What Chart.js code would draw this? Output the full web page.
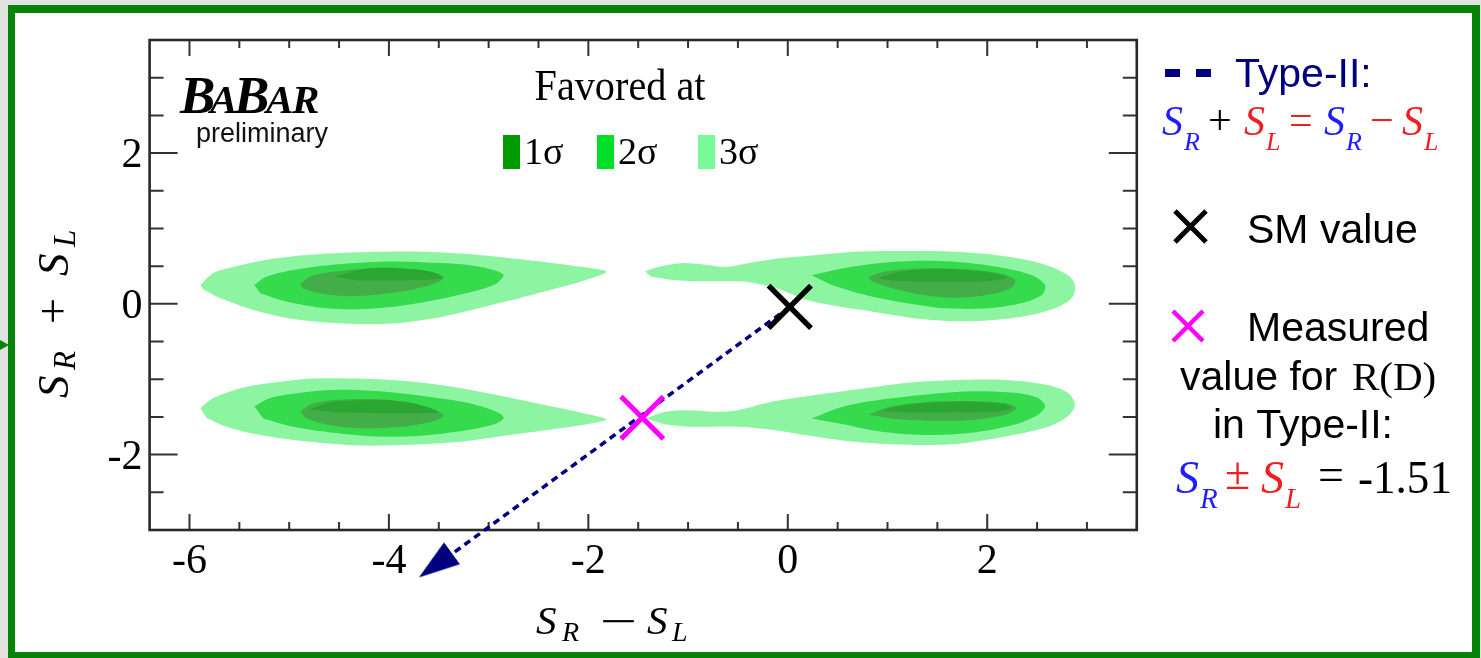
<!DOCTYPE html>
<html>
<head>
<meta charset="utf-8">
<title>S_R + S_L vs S_R - S_L</title>
<script src="https://cdn.jsdelivr.net/npm/chart.js@4.4.1/dist/chart.umd.min.js"></script>
<style>
  html, body { margin: 0; padding: 0; background: #e2e2e2; overflow: hidden; }
  #plot { display: block; }
</style>
</head>
<body>
<canvas id="plot" width="1481" height="658"></canvas>
<script>
// ---- axes -------------------------------------------------------------
const xRange = [-6.4, 3.5];
const yRange = [-3, 3.5];
const xTickLabels = [-6, -4, -2, 0, 2];
const yTickLabels = [-2, 0, 2];
const minorStep = 0.5;

// ---- favoured regions, outlines as [S_R - S_L, S_R + S_L] -------------
const upperLeft3 = [[-5.89,0.25],[-5.76,0.41],[-5.56,0.49],[-5.29,0.57],[-4.96,0.63],[-4.56,0.67],[-4.09,0.69],[-3.63,0.69],[-3.12,0.65],[-2.62,0.58],[-2.18,0.51],[-1.82,0.43],[-2.02,0.32],[-2.45,0.16],[-2.95,-0.01],[-3.46,-0.17],[-3.96,-0.26],[-4.46,-0.26],[-4.96,-0.20],[-5.36,-0.08],[-5.70,0.08],[-5.86,0.19]];
const upperLeft2 = [[-5.35,0.25],[-5.23,0.36],[-4.96,0.45],[-4.56,0.52],[-4.09,0.56],[-3.63,0.55],[-3.22,0.52],[-2.95,0.45],[-2.85,0.38],[-2.95,0.25],[-3.29,0.12],[-3.79,-0.01],[-4.23,-0.07],[-4.63,-0.06],[-5.03,0.03],[-5.29,0.14]];
const upperLeft1 = [[-4.89,0.27],[-4.76,0.38],[-4.46,0.44],[-4.09,0.48],[-3.76,0.46],[-3.53,0.41],[-3.45,0.35],[-3.56,0.26],[-3.89,0.16],[-4.36,0.10],[-4.70,0.14],[-4.87,0.21]];
const upperLeftCore = [[-4.55,0.36],[-4.30,0.45],[-4.09,0.48],[-3.76,0.46],[-3.53,0.41],[-3.47,0.34],[-3.90,0.31],[-4.30,0.31]];

const lowerLeft3 = [[-5.89,-1.38],[-5.76,-1.25],[-5.46,-1.11],[-5.13,-1.04],[-4.76,-0.99],[-4.36,-0.99],[-3.96,-1.01],[-3.46,-1.08],[-2.95,-1.20],[-2.45,-1.34],[-2.05,-1.45],[-1.82,-1.53],[-1.95,-1.58],[-2.28,-1.65],[-2.79,-1.74],[-3.29,-1.83],[-3.79,-1.87],[-4.29,-1.88],[-4.79,-1.83],[-5.29,-1.74],[-5.63,-1.63],[-5.83,-1.51]];
const lowerLeft2 = [[-5.35,-1.36],[-5.19,-1.25],[-4.89,-1.18],[-4.53,-1.14],[-4.09,-1.16],[-3.62,-1.23],[-3.19,-1.32],[-2.89,-1.45],[-2.85,-1.52],[-2.95,-1.60],[-3.29,-1.69],[-3.69,-1.75],[-4.12,-1.76],[-4.56,-1.71],[-4.96,-1.63],[-5.26,-1.52]];
const lowerLeft1 = [[-4.89,-1.43],[-4.76,-1.32],[-4.46,-1.27],[-4.06,-1.27],[-3.76,-1.32],[-3.53,-1.41],[-3.45,-1.48],[-3.56,-1.56],[-3.89,-1.63],[-4.29,-1.65],[-4.63,-1.60],[-4.83,-1.52]];
const lowerLeftCore = [[-4.80,-1.40],[-4.60,-1.31],[-4.30,-1.28],[-4.00,-1.28],[-3.76,-1.32],[-3.55,-1.40],[-3.50,-1.44],[-4.00,-1.45],[-4.50,-1.44]];

const upperRight3 = [[-1.43,0.43],[-1.30,0.49],[-1.07,0.54],[-0.83,0.52],[-0.63,0.49],[-0.40,0.54],[-0.10,0.60],[0.24,0.64],[0.67,0.69],[1.18,0.70],[1.68,0.69],[2.18,0.63],[2.58,0.52],[2.81,0.38],[2.88,0.25],[2.85,0.08],[2.68,-0.06],[2.35,-0.17],[1.84,-0.23],[1.34,-0.20],[0.84,-0.10],[0.44,-0.02],[0.17,0.06],[-0.10,0.20],[-0.40,0.29],[-0.66,0.30],[-0.93,0.30],[-1.17,0.32],[-1.37,0.36]];
const upperRight2 = [[0.24,0.38],[0.51,0.46],[0.84,0.53],[1.24,0.57],[1.68,0.56],[2.11,0.49],[2.45,0.38],[2.58,0.25],[2.55,0.12],[2.35,0.01],[2.01,-0.06],[1.58,-0.06],[1.18,0.01],[0.77,0.12],[0.44,0.25]];
const upperRight1 = [[0.81,0.36],[0.97,0.43],[1.34,0.47],[1.78,0.46],[2.11,0.41],[2.28,0.32],[2.24,0.21],[2.01,0.12],[1.68,0.08],[1.34,0.12],[1.04,0.21],[0.84,0.30]];
const upperRightCore = [[0.90,0.34],[1.10,0.42],[1.40,0.46],[1.78,0.45],[2.05,0.41],[2.20,0.35],[2.00,0.30],[1.50,0.29],[1.10,0.30]];

const lowerRight3 = [[-1.42,-1.52],[-1.23,-1.43],[-1.00,-1.41],[-0.73,-1.43],[-0.50,-1.41],[-0.16,-1.30],[0.17,-1.23],[0.67,-1.14],[1.18,-1.05],[1.68,-1.01],[2.18,-1.01],[2.58,-1.07],[2.81,-1.18],[2.88,-1.34],[2.81,-1.49],[2.61,-1.63],[2.18,-1.76],[1.68,-1.86],[1.18,-1.87],[0.67,-1.83],[0.17,-1.74],[-0.16,-1.67],[-0.50,-1.63],[-0.77,-1.63],[-1.00,-1.63],[-1.23,-1.60]];
const lowerRight2 = [[0.24,-1.52],[0.51,-1.38],[0.84,-1.29],[1.34,-1.21],[1.84,-1.16],[2.28,-1.18],[2.51,-1.25],[2.58,-1.36],[2.51,-1.47],[2.28,-1.60],[1.84,-1.71],[1.34,-1.74],[0.91,-1.69],[0.57,-1.60]];
const lowerRight1 = [[0.81,-1.47],[1.04,-1.36],[1.44,-1.30],[1.84,-1.29],[2.18,-1.32],[2.29,-1.38],[2.18,-1.47],[1.84,-1.54],[1.44,-1.55],[1.11,-1.53],[0.91,-1.49]];
const lowerRightCore = [[0.95,-1.42],[1.10,-1.36],[1.44,-1.31],[1.84,-1.30],[2.18,-1.33],[2.25,-1.38],[2.10,-1.43],[1.60,-1.44],[1.20,-1.44]];

// ---- points and the Type-II line ---------------------------------------
const smPoint = [0.02, -0.04];
const measuredPoint = [-1.46, -1.51];
const typeIILine = [[0.02, -0.04], [-3.37, -3.32]];
const arrowTip = [-3.70, -3.63];

// ---- colours -------------------------------------------------------------
const sigmaFill = { 0: '#2ba633', 1: '#43ae48', 2: '#35db4c', 3: '#8df5a2' };
const sigmaKey  = { 1: '#009b00', 2: '#00e028', 3: '#78fa96' };
const SERIF = "'Liberation Serif', 'Times New Roman', serif";
const SANS = "'Liberation Sans', Arial, sans-serif";

const toXY = pts => pts.map(p => ({ x: p[0], y: p[1] }));

function region(pts, level) {
  return {
    data: toXY(pts),
    showLine: true,
    fill: 'shape',
    tension: 0.3,
    borderWidth: 0,
    borderColor: 'rgba(0,0,0,0)',
    backgroundColor: sigmaFill[level],
    pointRadius: 0,
    order: 10 + level
  };
}

// arrow head sprite: tip sits at the sprite centre and points to +x
const arrowHead = document.createElement('canvas');
arrowHead.width = 96; arrowHead.height = 34;
(function () {
  const g = arrowHead.getContext('2d');
  g.fillStyle = '#00007f';
  g.beginPath();
  g.moveTo(48, 17);
  g.lineTo(7, 3.5);
  g.lineTo(7, 30.5);
  g.closePath();
  g.fill();
})();

function lineAngle(chart) {
  const xs = chart.scales.x, ys = chart.scales.y;
  const dx = xs.getPixelForValue(arrowTip[0]) - xs.getPixelForValue(typeIILine[0][0]);
  const dy = ys.getPixelForValue(arrowTip[1]) - ys.getPixelForValue(typeIILine[0][1]);
  return Math.atan2(dy, dx) * 180 / Math.PI;
}

// ---- page furniture: grey surround, green frame ------------------------
const paperPlugin = {
  id: 'paper',
  beforeDraw(chart) {
    const c = chart.ctx;
    c.save();
    c.fillStyle = '#e2e2e2';
    c.fillRect(0, 0, chart.width, chart.height);
    c.fillStyle = '#078407';
    c.fillRect(8, 5, 1472, 653);
    c.beginPath();
    c.moveTo(0, 340); c.lineTo(9, 345); c.lineTo(0, 350); c.closePath();
    c.fill();
    c.fillStyle = '#ffffff';
    c.fillRect(15, 13, 1457, 639);
    c.restore();
  }
};

// ---- plot frame with inward ticks on all four sides --------------------
const framePlugin = {
  id: 'frame',
  beforeDatasetsDraw(chart) {
    const c = chart.ctx;
    const { left, right, top, bottom } = chart.chartArea;
    const xs = chart.scales.x, ys = chart.scales.y;
    c.save();
    c.strokeStyle = '#333333';
    c.lineWidth = 2;
    c.beginPath();
    for (let v = Math.ceil(xRange[0] / minorStep) * minorStep; v <= xRange[1] + 1e-9; v += minorStep) {
      const px = xs.getPixelForValue(v);
      const len = xTickLabels.some(t => Math.abs(t - v) < 1e-6) ? 16 : 8;
      c.moveTo(px, bottom); c.lineTo(px, bottom - len);
      c.moveTo(px, top); c.lineTo(px, top + len);
    }
    for (let v = Math.ceil(yRange[0] / minorStep) * minorStep; v <= yRange[1] + 1e-9; v += minorStep) {
      const py = ys.getPixelForValue(v);
      const len = yTickLabels.some(t => Math.abs(t - v) < 1e-6) ? 28 : 14;
      c.moveTo(left, py); c.lineTo(left + len, py);
      c.moveTo(right, py); c.lineTo(right - len, py);
    }
    c.stroke();
    c.strokeStyle = '#2a2a2a';
    c.lineWidth = 2.6;
    c.strokeRect(left, top, right - left, bottom - top);
    c.restore();
  }
};

// ---- text: logo, key, axis titles and the notes on the right -----------
function put(c, s, x, y, font, color, maxW) {
  c.font = font;
  c.fillStyle = color;
  if (maxW) c.fillText(s, x, y, maxW); else c.fillText(s, x, y);
}
// horizontally stretched glyph (wide math minus)
function putWide(c, s, x, y, font, color, sx) {
  c.save();
  c.translate(x, y);
  c.scale(sx, 1);
  put(c, s, 0, 0, font, color);
  c.restore();
}

const textPlugin = {
  id: 'texts',
  afterDraw(chart) {
    const c = chart.ctx;
    c.save();
    c.textAlign = 'left';
    c.textBaseline = 'alphabetic';

    // experiment logo
    const big = 'italic bold 53px ' + SERIF, small = 'italic bold 41px ' + SERIF;
    put(c, 'B', 180, 113, big, '#000');
    put(c, 'A', 210, 113, small, '#000');
    put(c, 'B', 234, 113, big, '#000');
    put(c, 'A', 266, 113, small, '#000');
    put(c, 'R', 292, 113, small, '#000');
    put(c, 'preliminary', 196, 142, '27px ' + SANS, '#111', 136);

    // key for the favoured regions
    c.textAlign = 'center';
    put(c, 'Favored at', 620, 100, '44px ' + SERIF, '#000', 171);
    c.textAlign = 'left';
    const keys = [[503, 1, '1σ'], [597, 2, '2σ'], [698, 3, '3σ']];
    for (const [kx, lvl, lab] of keys) {
      c.fillStyle = sigmaKey[lvl];
      c.fillRect(kx, 135, 17, 34);
      put(c, lab, kx + 21, 164, '38px ' + SERIF, '#000', 40);
    }

    // x axis title
    put(c, 'S', 536, 634, 'italic 41px ' + SERIF, '#000');
    put(c, 'R', 562, 641, 'italic 28px ' + SERIF, '#000');
    putWide(c, '\u2212', 600, 636, '44px ' + SERIF, '#000', 1.5);
    put(c, 'S', 647, 634, 'italic 41px ' + SERIF, '#000');
    put(c, 'L', 672, 641, 'italic 28px ' + SERIF, '#000');

    // y axis title (reads bottom to top)
    c.save();
    c.translate(68, 398);
    c.rotate(-Math.PI / 2);
    put(c, 'S', 0, 0, 'italic 45px ' + SERIF, '#000');
    put(c, 'R', 28, 7, 'italic 31px ' + SERIF, '#000');
    put(c, '+', 74, 0, '46px ' + SERIF, '#000');
    put(c, 'S', 122, 0, 'italic 45px ' + SERIF, '#000');
    put(c, 'L', 151, 7, 'italic 31px ' + SERIF, '#000');
    c.restore();

    // notes on the right-hand side
    const navy = '#00007f', blue = '#1e1eff', red = '#f01e1e';
    c.fillStyle = navy;
    c.fillRect(1165, 69, 15, 8);
    c.fillRect(1196, 69, 15, 8);
    put(c, 'Type-II:', 1235, 87, '41px ' + SANS, navy);

    const eqS = 'italic 42px ' + SERIF, eqSub = 'italic 26px ' + SERIF, eqOp = '42px ' + SERIF;
    put(c, 'S', 1162, 135, eqS, blue);
    put(c, 'R', 1184, 150, eqSub, blue);
    put(c, '+', 1208, 134, eqOp, '#000');
    put(c, 'S', 1244, 135, eqS, red);
    put(c, 'L', 1266, 150, eqSub, red);
    put(c, '=', 1289, 134, eqOp, red);
    put(c, 'S', 1324, 135, eqS, blue);
    put(c, 'R', 1346, 150, eqSub, blue);
    put(c, '\u2212', 1370, 134, eqOp, red);
    put(c, 'S', 1402, 135, eqS, red);
    put(c, 'L', 1424, 150, eqSub, red);

    // key crosses
    c.lineCap = 'butt';
    c.strokeStyle = '#000'; c.lineWidth = 5;
    c.beginPath();
    c.moveTo(1175, 211); c.lineTo(1206, 242);
    c.moveTo(1206, 211); c.lineTo(1175, 242);
    c.stroke();
    c.strokeStyle = '#ff00ff'; c.lineWidth = 4.5;
    c.beginPath();
    c.moveTo(1173, 311); c.lineTo(1203, 341);
    c.moveTo(1203, 311); c.lineTo(1173, 341);
    c.stroke();

    put(c, 'SM value', 1247, 243, '41px ' + SANS, '#000');
    put(c, 'Measured', 1247, 341, '41px ' + SANS, '#000');
    put(c, 'value for', 1180, 390, '41px ' + SANS, '#000');
    put(c, 'R(D)', 1352, 390, '41px ' + SERIF, '#000');
    put(c, 'in Type-II:', 1213, 438, '41px ' + SANS, '#000');

    put(c, 'S', 1176, 493, 'italic 46px ' + SERIF, blue);
    put(c, 'R', 1200, 508, 'italic 29px ' + SERIF, blue);
    put(c, '\u00b1', 1225, 489, '46px ' + SERIF, red);
    put(c, 'S', 1261, 493, 'italic 46px ' + SERIF, red);
    put(c, 'L', 1285, 508, 'italic 29px ' + SERIF, red);
    put(c, '=', 1318, 490, '46px ' + SERIF, '#000');
    put(c, '-1.51', 1358, 493, '47px ' + SERIF, '#000', 94);

    c.restore();
  }
};

const datasets = [
  region(upperLeft3, 3), region(upperLeft2, 2), region(upperLeft1, 1), region(upperLeftCore, 0),
  region(lowerLeft3, 3), region(lowerLeft2, 2), region(lowerLeft1, 1), region(lowerLeftCore, 0),
  region(upperRight3, 3), region(upperRight2, 2), region(upperRight1, 1), region(upperRightCore, 0),
  region(lowerRight3, 3), region(lowerRight2, 2), region(lowerRight1, 1), region(lowerRightCore, 0),
  {
    // Type-II line S_L = 0
    data: toXY(typeIILine),
    showLine: true,
    fill: false,
    borderColor: '#00007f',
    borderWidth: 3.5,
    borderDash: [7, 5],
    pointRadius: 0,
    clip: false,
    order: 3
  },
  {
    data: toXY([arrowTip]),
    pointStyle: arrowHead,
    pointRadius: 60,
    rotation: ctx => lineAngle(ctx.chart),
    clip: false,
    order: 2
  },
  {
    // SM value
    data: toXY([smPoint]),
    pointStyle: 'crossRot',
    pointRadius: 30,
    borderWidth: 5.5,
    borderColor: '#000000',
    order: 1
  },
  {
    // measured value for R(D)
    data: toXY([measuredPoint]),
    pointStyle: 'crossRot',
    pointRadius: 30,
    borderWidth: 5,
    borderColor: '#ff00ff',
    order: 0
  }
];

new Chart(document.getElementById('plot'), {
  type: 'scatter',
  data: { datasets },
  plugins: [paperPlugin, framePlugin, textPlugin],
  options: {
    responsive: false,
    animation: false,
    events: [],
    layout: { autoPadding: false, padding: { left: 0, right: 344.2, top: 40, bottom: 0 } },
    plugins: { legend: { display: false }, tooltip: { enabled: false } },
    scales: {
      x: {
        type: 'linear',
        min: xRange[0], max: xRange[1],
        grid: { display: false, drawTicks: false },
        border: { display: false },
        afterBuildTicks: s => { s.ticks = xTickLabels.map(v => ({ value: v })); },
        afterFit: s => { s.height = 128; },
        ticks: { color: '#000', padding: 7, maxRotation: 0, font: { family: SERIF, size: 42 } }
      },
      y: {
        type: 'linear',
        min: yRange[0], max: yRange[1],
        grid: { display: false, drawTicks: false },
        border: { display: false },
        afterBuildTicks: s => { s.ticks = yTickLabels.map(v => ({ value: v })); },
        afterFit: s => { s.width = 149.6; },
        ticks: { color: '#000', padding: 7, labelOffset: 3, font: { family: SERIF, size: 42 } }
      }
    }
  }
});
</script>
</body>
</html>
